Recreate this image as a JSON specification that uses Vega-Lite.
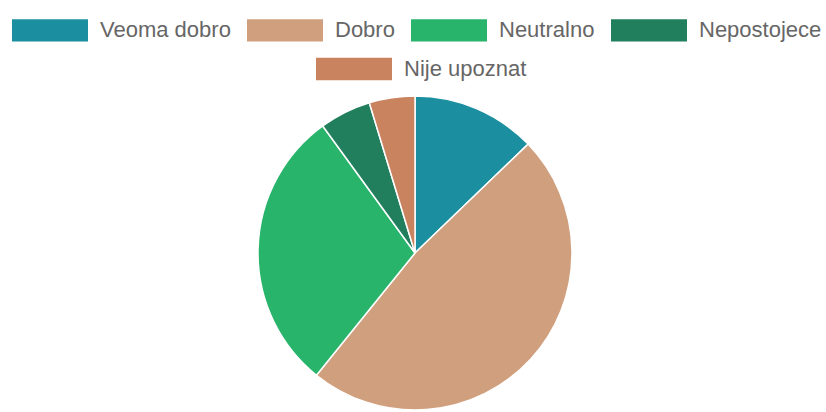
{
  "$schema": "https://vega.github.io/schema/vega-lite/v6.json",
  "autosize": {"type": "none"},
  "width": 826,
  "height": 318,
  "padding": {"left": 2, "top": 94, "right": 0, "bottom": 0},
  "background": "white",
  "config": {"view": {"stroke": null}},
  "data": {"values": [
    {"ocjena": "Veoma dobro", "procenat": 12.8},
    {"ocjena": "Dobro", "procenat": 48.0},
    {"ocjena": "Neutralno", "procenat": 29.2},
    {"ocjena": "Nepostojece", "procenat": 5.3},
    {"ocjena": "Nije upoznat", "procenat": 4.7}
  ]},
  "layer": [
    {
      "mark": {"type": "arc", "radius": 157, "stroke": "white", "strokeWidth": 1.5},
      "encoding": {
        "theta": {"field": "procenat", "type": "quantitative", "stack": true},
        "color": {
          "field": "ocjena", "type": "nominal",
          "sort": ["Veoma dobro", "Dobro", "Neutralno", "Nepostojece", "Nije upoznat"],
          "scale": {"domain": ["Veoma dobro", "Dobro", "Neutralno", "Nepostojece", "Nije upoznat"],
                    "range": ["#1b8f9f", "#d0a07e", "#29b46b", "#217f5e", "#c9835f"]},
          "legend": {
            "values": ["Veoma dobro", "Dobro", "Neutralno", "Nepostojece"],
            "title": null, "orient": "none", "direction": "horizontal",
            "legendX": 10, "legendY": -102,
            "symbolType": "M-1,-0.295H1V0.295H-1Z", "symbolSize": 5776,
            "symbolStrokeWidth": 0,
            "labelFont": "Liberation Sans", "labelFontSize": 22, "labelColor": "#666666",
            "labelOffset": 12, "columnPadding": 16
          }
        },
        "order": {"field": "ocjenaIdx"}
      },
      "transform": [{"calculate": "indexof(['Veoma dobro','Dobro','Neutralno','Nepostojece','Nije upoznat'], datum.ocjena)", "as": "ocjenaIdx"}]
    },
    {
      "mark": {"type": "arc", "radius": 157, "stroke": "white", "strokeWidth": 1.5},
      "encoding": {
        "theta": {"field": "procenat", "type": "quantitative", "stack": true},
        "color": {
          "field": "ocjena", "type": "nominal",
          "scale": {"domain": ["Veoma dobro", "Dobro", "Neutralno", "Nepostojece", "Nije upoznat"],
                    "range": ["#1b8f9f", "#d0a07e", "#29b46b", "#217f5e", "#c9835f"]},
          "legend": {
            "values": ["Nije upoznat"],
            "title": null, "orient": "none", "direction": "horizontal",
            "legendX": 314, "legendY": -63,
            "symbolType": "M-1,-0.295H1V0.295H-1Z", "symbolSize": 5776,
            "symbolStrokeWidth": 0,
            "labelFont": "Liberation Sans", "labelFontSize": 22, "labelColor": "#666666",
            "labelOffset": 12
          }
        },
        "order": {"field": "ocjenaIdx"}
      },
      "transform": [{"calculate": "indexof(['Veoma dobro','Dobro','Neutralno','Nepostojece','Nije upoznat'], datum.ocjena)", "as": "ocjenaIdx"}]
    }
  ],
  "resolve": {"scale": {"color": "independent"}}
}
